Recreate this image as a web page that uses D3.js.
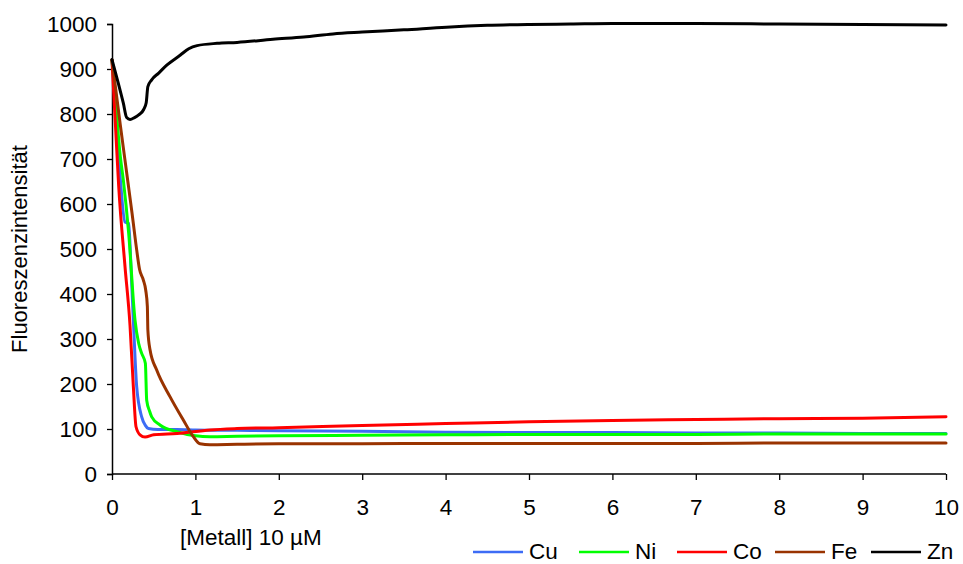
<!DOCTYPE html>
<html><head><meta charset="utf-8">
<script src="https://cdn.jsdelivr.net/npm/d3@7"></script>
<style>body{margin:0;background:#fff;} svg{display:block;} text{font-family:Arial,"Liberation Sans",sans-serif;fill:#000;}</style>
</head><body>
<svg id="chart" width="963" height="564"></svg>
<script>
const xTicks = [0,1,2,3,4,5,6,7,8,9,10];
const yTicks = [0,100,200,300,400,500,600,700,800,900,1000];
const seriesNames = ["Cu","Ni","Co","Fe","Zn"];
const seriesColors = ["#3d6cf5","#00ff00","#ff0000","#993300","#000000"];

const cu = [[0,920],[0.05,790],[0.1,655],[0.156,560],[0.2,557],[0.23,450],[0.256,342],[0.296,194],[0.356,127],[0.4,108],[0.436,101],[0.55,99],[0.78,99],[1,98],[1.5,97],[2,96],[3,95],[4,93],[5,92],[6,92],[7,91],[8,91],[9,90],[10,90]];
const ni = [[0,920],[0.05,810],[0.1,705],[0.136,653],[0.2,535],[0.276,342],[0.32,290],[0.356,268],[0.4,246],[0.416,164],[0.45,140],[0.476,127],[0.575,109],[0.78,94],[1,85],[1.175,83],[1.5,84],[2,85],[3,86],[4,87],[5,88],[6,88],[7,88],[8,89],[9,89],[10,89]];
const co = [[0,920],[0.04,780],[0.08,640],[0.156,461],[0.216,330],[0.256,194],[0.288,105],[0.336,87],[0.396,82],[0.5,87],[0.78,90],[1.175,98],[1.5,101],[2,103],[3,108],[4,112],[5,116],[6,119],[7,121],[8,123],[9,124],[10,127]];
const fe = [[0,920],[0.1,775],[0.19,650],[0.24,580],[0.296,498],[0.33,455],[0.376,431],[0.404,409],[0.424,372],[0.43,320],[0.456,276],[0.536,231],[0.695,172],[0.855,120],[0.975,83],[1.055,67],[1.175,65],[1.5,66],[2,67],[3,67],[4,68],[5,68],[6,68],[7,68],[8,69],[9,69],[10,69]];
const zn = [[0,921],[0.076,868],[0.136,824],[0.176,792],[0.216,788],[0.27,792],[0.32,798],[0.38,810],[0.41,825],[0.43,861],[0.476,876],[0.56,891],[0.66,909],[0.82,931],[0.92,945],[1.02,952],[1.26,957],[1.5,959],[1.93,966],[2.3,971],[2.65,978],[3,982],[3.5,987],[4.01,993],[4.5,997],[5,999],[5.5,1000],[6,1001],[7,1001],[8,1000],[9,999],[10,998]];
const seriesData = [cu, ni, co, fe, zn];

const svg = d3.select("#chart");
const x = d3.scaleLinear().domain([0,10]).range([112,946]);
const y = d3.scaleLinear().domain([0,1000]).range([474,24]);

// axes
const yAxis = d3.axisLeft(y).tickValues(yTicks).tickSize(5).tickPadding(10).tickFormat(d3.format("d"));
const gy = svg.append("g").attr("transform","translate(112,0)").call(yAxis);
const xAxis = d3.axisBottom(x).tickValues(xTicks).tickSize(6).tickPadding(19).tickFormat(d3.format("d"));
const gx = svg.append("g").attr("transform","translate(0,474)").call(xAxis);
[gx,gy].forEach(g=>{
  g.select(".domain").attr("stroke","#000").attr("stroke-width",1.5);
  g.selectAll(".tick line").attr("stroke","#000").attr("stroke-width",1.3);
  g.selectAll(".tick text").style("font-family","Arial, 'Liberation Sans', sans-serif").style("font-size","22.5px").attr("fill","#000");
});
gx.select(".domain").attr("d","M112,0H946");

// lines
const line = d3.line().x(d=>x(d[0])).y(d=>y(d[1])).curve(d3.curveMonotoneX);
seriesData.forEach((s,i)=>{
  svg.append("path").datum(s).attr("d",line).attr("fill","none")
    .attr("stroke",seriesColors[i]).attr("stroke-width",3).attr("stroke-linejoin","round").attr("stroke-linecap","round");
});

// axis titles
svg.append("text").attr("x",180).attr("y",545).style("font-size","22.5px").text("[Metall] 10 µM");
svg.append("text").attr("transform","translate(27,249) rotate(-90)").attr("text-anchor","middle").style("font-size","22px").text("Fluoreszenzintensität");

// legend
const legX = [473,579,677,775,871];
seriesNames.forEach((n,i)=>{
  svg.append("line").attr("x1",legX[i]).attr("x2",legX[i]+50).attr("y1",552).attr("y2",552)
    .attr("stroke",seriesColors[i]).attr("stroke-width",2.5);
  svg.append("text").attr("x",legX[i]+56).attr("y",559).style("font-size","22.5px").text(n);
});
</script>
</body></html>
